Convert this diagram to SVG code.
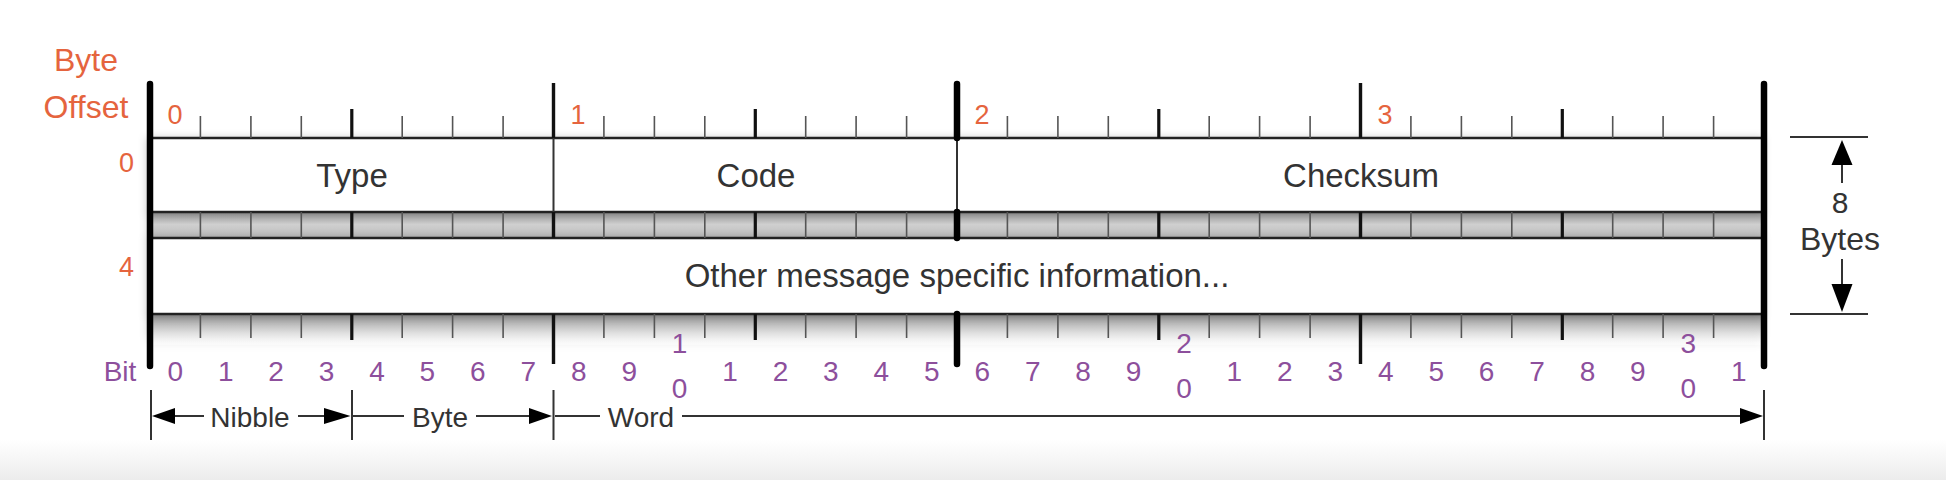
<svg xmlns="http://www.w3.org/2000/svg" width="1946" height="480" viewBox="0 0 1946 480">
<defs>
<style>
.lbl{font-family:"Liberation Sans",Arial,sans-serif;fill:#333;}
.big{font-size:33px;text-anchor:middle;}
.org{font-family:"Liberation Sans",Arial,sans-serif;fill:#e5643e;}
.pur{font-family:"Liberation Sans",Arial,sans-serif;fill:#8d4f9c;font-size:28px;text-anchor:middle;}
.dim{font-family:"Liberation Sans",Arial,sans-serif;fill:#333;font-size:28px;text-anchor:middle;}
.row{fill:#fff;stroke:#222;stroke-width:2.5;}
.tk{stroke:#555;stroke-width:1.6;}
.nb{stroke:#111;stroke-width:3.2;}
.by{stroke:#111;stroke-width:3.4;}
.bt{stroke:#000;stroke-width:6.5;stroke-linecap:round;}
.thin{stroke:#333;stroke-width:2;}
.dl{stroke:#333;stroke-width:2;fill:none;}
.ah{fill:#000;}
</style>
<linearGradient id="band1" x1="0" y1="0" x2="0" y2="1">
<stop offset="0" stop-color="#929292"/>
<stop offset="0.5" stop-color="#cfcfcf"/>
<stop offset="1" stop-color="#bcbcbc"/>
</linearGradient>
<linearGradient id="band2" x1="0" y1="0" x2="0" y2="1">
<stop offset="0" stop-color="#8e8e8e"/>
<stop offset="0.5" stop-color="#d0d0d0"/>
<stop offset="1" stop-color="#fff" stop-opacity="0"/>
</linearGradient>
<linearGradient id="floor" x1="0" y1="0" x2="0" y2="1">
<stop offset="0" stop-color="#fff"/>
<stop offset="1" stop-color="#ececec"/>
</linearGradient>
<filter id="sh" x="-5%" y="-30%" width="110%" height="160%">
<feDropShadow dx="-2" dy="1" stdDeviation="4" flood-color="#000" flood-opacity="0.22"/>
</filter>
</defs>
<rect width="1946" height="480" fill="#fff"/>
<rect y="440" width="1946" height="40" fill="url(#floor)"/>

<g id="byte-offset-label">
<text class="org" x="86" y="71" font-size="32" text-anchor="middle">Byte</text>
<text class="org" x="86" y="118" font-size="32" text-anchor="middle">Offset</text>
</g>
<g id="row-offsets">
<text class="org" x="134" y="172" font-size="27" text-anchor="end">0</text>
<text class="org" x="134" y="276" font-size="27" text-anchor="end">4</text>
</g>
<g id="byte-numbers" class="org" font-size="27" text-anchor="middle">
<text x="175" y="124">0</text>
<text x="578" y="124">1</text>
<text x="982" y="124">2</text>
<text x="1385" y="124">3</text>
</g>

<g id="bands" filter="url(#sh)">
<rect x="150" y="211" width="1614" height="27" fill="url(#band1)"/>
<rect x="150" y="313" width="1614" height="32" fill="url(#band2)"/>
</g>

<g id="row1" filter="url(#sh)">
<rect class="row" x="150" y="138" width="1614" height="74"/>
</g>
<g id="row2" filter="url(#sh)">
<rect class="row" x="150" y="238" width="1614" height="76"/>
</g>
<g id="field-type"><text class="lbl big" x="352" y="187">Type</text></g>
<g id="field-code"><text class="lbl big" x="756" y="187">Code</text></g>
<g id="field-checksum"><text class="lbl big" x="1361" y="187">Checksum</text></g>
<g id="field-other"><text class="lbl big" x="957" y="287">Other message specific information...</text></g>

<g id="ticks">
<path class="tk" d="M200.4 116V138M250.9 116V138M301.3 116V138M402.2 116V138M452.6 116V138M503.1 116V138M603.9 116V138M654.4 116V138M704.8 116V138M805.7 116V138M856.1 116V138M906.6 116V138M1007.4 116V138M1057.9 116V138M1108.3 116V138M1209.2 116V138M1259.6 116V138M1310.1 116V138M1410.9 116V138M1461.4 116V138M1511.8 116V138M1612.7 116V138M1663.1 116V138M1713.6 116V138"/>
<path class="nb" d="M351.8 109V138M755.3 109V138M1158.8 109V138M1562.3 109V138"/>
<path class="tk" d="M200.4 212V238M250.9 212V238M301.3 212V238M402.2 212V238M452.6 212V238M503.1 212V238M603.9 212V238M654.4 212V238M704.8 212V238M805.7 212V238M856.1 212V238M906.6 212V238M1007.4 212V238M1057.9 212V238M1108.3 212V238M1209.2 212V238M1259.6 212V238M1310.1 212V238M1410.9 212V238M1461.4 212V238M1511.8 212V238M1612.7 212V238M1663.1 212V238M1713.6 212V238"/>
<path class="nb" d="M351.8 212V238M755.3 212V238M1158.8 212V238M1562.3 212V238"/>
<path class="tk" d="M200.4 314V338M250.9 314V338M301.3 314V338M402.2 314V338M452.6 314V338M503.1 314V338M603.9 314V338M654.4 314V338M704.8 314V338M805.7 314V338M856.1 314V338M906.6 314V338M1007.4 314V338M1057.9 314V338M1108.3 314V338M1209.2 314V338M1259.6 314V338M1310.1 314V338M1410.9 314V338M1461.4 314V338M1511.8 314V338M1612.7 314V338M1663.1 314V338M1713.6 314V338"/>
<path class="nb" d="M351.8 314V340M755.3 314V340M1158.8 314V340M1562.3 314V340"/>
<path class="by" d="M553.5 83V138M553.5 212V238M553.5 314V364M1360.5 83V138M1360.5 212V238M1360.5 314V364"/>
<path class="thin" d="M553.5 138V212M957 138V212"/>
<path class="bt" d="M957 84V138M957 212V238M957 314V364"/>
<path class="bt" d="M150 84V366M1764 84V366"/>
</g>

<g id="bit-axis">
<text class="pur" x="120" y="381" font-size="32" text-anchor="end">Bit</text>
<g class="pur">
<text x="175.2" y="381">0</text><text x="225.7" y="381">1</text><text x="276.1" y="381">2</text><text x="326.5" y="381">3</text>
<text x="377" y="381">4</text><text x="427.4" y="381">5</text><text x="477.8" y="381">6</text><text x="528.3" y="381">7</text>
<text x="578.7" y="381">8</text><text x="629.2" y="381">9</text><text x="679.6" y="353">1</text><text x="679.6" y="398">0</text><text x="730" y="381">1</text>
<text x="780.5" y="381">2</text><text x="830.9" y="381">3</text><text x="881.3" y="381">4</text><text x="931.8" y="381">5</text>
<text x="982.2" y="381">6</text><text x="1032.7" y="381">7</text><text x="1083.1" y="381">8</text><text x="1133.5" y="381">9</text>
<text x="1184" y="353">2</text><text x="1184" y="398">0</text><text x="1234.4" y="381">1</text><text x="1284.8" y="381">2</text><text x="1335.3" y="381">3</text>
<text x="1385.7" y="381">4</text><text x="1436.2" y="381">5</text><text x="1486.6" y="381">6</text><text x="1537" y="381">7</text>
<text x="1587.5" y="381">8</text><text x="1637.9" y="381">9</text><text x="1688.3" y="353">3</text><text x="1688.3" y="398">0</text><text x="1738.8" y="381">1</text>
</g>
</g>

<g id="connectors">
<path class="dl" d="M151 390V440M352 390V440M553.5 390V440M1764 390V440"/>
<path class="dl" d="M172 416H204M298 416H326M353 416H404M476 416H532M555 416H600M682 416H1742"/>
<polygon class="ah" points="152,416 175,408 175,424"/>
<polygon class="ah" points="350.5,416 324,408 324,424"/>
<polygon class="ah" points="552,416 529,408 529,424"/>
<polygon class="ah" points="1763,416 1740,408 1740,424"/>
<path class="dl" d="M1790 137H1868M1790 314H1868M1842 160V183M1842 259V287"/>
<polygon class="ah" points="1842,140 1831.5,165 1852.5,165"/>
<polygon class="ah" points="1842,312 1831.5,284 1852.5,284"/>
</g>
<g id="dim-labels">
<text class="dim" x="250" y="427" font-size="27.5">Nibble</text>
<text class="dim" x="440" y="427">Byte</text>
<text class="dim" x="641" y="427" font-size="29">Word</text>
<text class="lbl" x="1840" y="213" font-size="30" text-anchor="middle">8</text>
<text class="lbl" x="1840" y="250" font-size="32" text-anchor="middle">Bytes</text>
</g>
</svg>
